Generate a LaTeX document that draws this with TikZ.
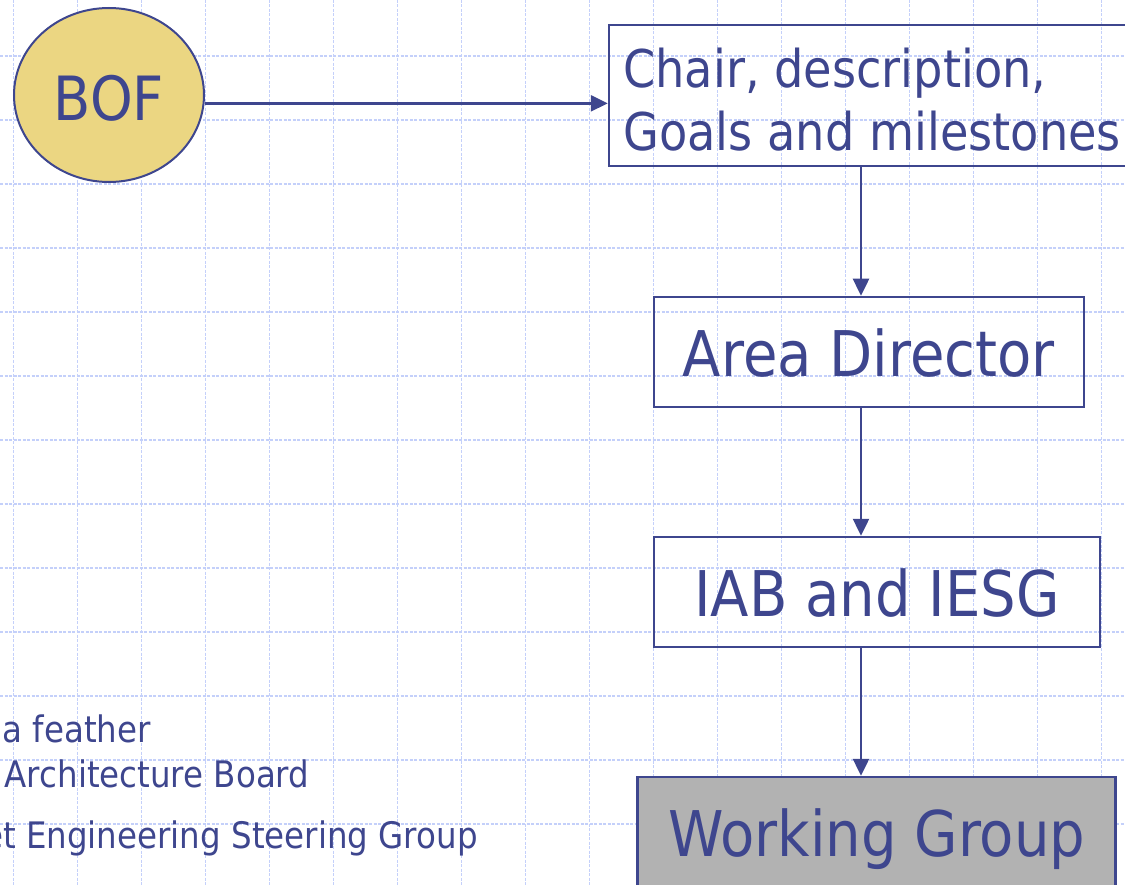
\documentclass[tikz,border=0pt]{standalone}
\usepackage{fontspec}
\setmainfont[FakeStretch=0.89]{DejaVu Sans}
\usepackage{xcolor}
\usepackage{tikz}
\usetikzlibrary{arrows.meta,shapes.geometric}

\definecolor{inkblue}{RGB}{62,70,142}
\definecolor{gridblue}{RGB}{196,208,250}
\definecolor{bofyellow}{RGB}{235,214,130}
\definecolor{wggray}{RGB}{178,178,178}

\tikzset{
  gridline/.style={gridblue, line width=1.4pt, dash pattern=on 3pt off 1.5pt},
  stage/.style={draw=inkblue, line width=2.5pt, text=inkblue, inner sep=0pt,
    minimum height=110pt, text height=49pt, text depth=0pt,
    font=\fontsize{63}{63}\selectfont},
  flow/.style={draw=inkblue, line width=2.5pt, -{Triangle[length=17pt,width=16pt]}},
  chairtext/.style={text=inkblue, inner sep=0pt, anchor=base west,
    font=\fontsize{52}{52}\selectfont},
  note/.style={text=inkblue, inner sep=0pt, anchor=base west,
    font=\fontsize{36.5}{36.5}\selectfont}
}

\begin{document}
\begin{tikzpicture}[x=1pt, y=-1pt]
  \clip (0,0) rectangle (1125,885);
  % paper grid
  \foreach \gx in {0,...,17}
    \draw[gridline] (13.3+64*\gx,0) -- (13.3+64*\gx,885);
  \foreach \gy in {0,...,14}
    \draw[gridline] (0,-8+64*\gy) -- (1125,-8+64*\gy);
  % chain of stages
  \node[ellipse, draw=inkblue, line width=2pt, fill=bofyellow, inner sep=0pt,
    minimum width=190pt, minimum height=174pt, text=inkblue,
    text height=51pt, text depth=0pt, font=\fontsize{61}{61}\selectfont]
    (bof) at (109,95) {BOF};
  \node[stage, minimum width=531pt, minimum height=141pt] (chair) at (874.5,95.6) {};
  \node[chairtext] (chairA) at (623,87.3) {Chair, description,};
  \node[chairtext] (chairB) at (623,150.7) {Goals and milestones};
  \node[stage, minimum width=430pt] (area) at (869,352) {Area Director};
  \node[stage, minimum width=446pt] (iab) at (877,592) {IAB and IESG};
  \node[stage, minimum width=478pt, fill=wggray] (wg) at (876.7,832) {Working Group};
  % arrows
  \coordinate (spine) at (861,0);
  \draw[flow] (bof.-5.5) -- (bof.-5.5 -| chair.west);
  \draw[flow] (chair.south -| spine) -- (area.north -| spine);
  \draw[flow] (area.south -| spine) -- (iab.north -| spine);
  \draw[flow] (iab.south -| spine) -- (wg.north -| spine);
  % glossary lines
  \node[note] (bofnote) at (2.5,742.7) {a feather};
  \node[note] (iabnote) at (4.5,787.5) {Architecture Board};
  \node[note] (iesgnote) at (-17,848.3) {et Engineering Steering Group};
\end{tikzpicture}
\end{document}
